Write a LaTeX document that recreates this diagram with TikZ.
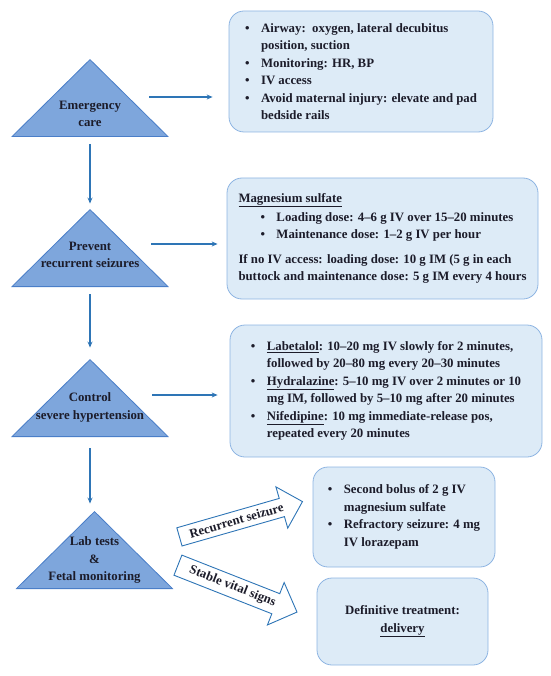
\documentclass[tikz,border=0pt]{standalone}
\usepackage{fontspec}
\setmainfont{Liberation Serif}
\usetikzlibrary{shapes.geometric,shapes.arrows,arrows.meta}

\definecolor{trifill}{HTML}{7EA6DC}
\definecolor{triline}{HTML}{4A7EC8}
\definecolor{boxfill}{HTML}{DDEBF7}
\definecolor{boxline}{HTML}{8DB4E2}
\definecolor{flowblue}{HTML}{2E75B6}
\definecolor{inkdark}{HTML}{1C1C2A}

\newcommand{\bul}{\makebox[16pt][l]{\textbullet}}
\newcommand{\cont}{\hspace*{16pt}}

\begin{document}
\begin{tikzpicture}[
  x = 1pt, y = -1pt,
  every node/.style = {font=\bfseries\fontsize{12.8}{17.5}\selectfont, text=inkdark},
  tri/.style      = {isosceles triangle, isosceles triangle stretches,
                     shape border rotate=90, draw=triline, fill=trifill,
                     line width=0.8pt, minimum width=156pt, minimum height=77pt,
                     inner sep=0pt, anchor=lower side},
  tritext/.style  = {align=center},
  infobox/.style  = {draw=boxline, fill=boxfill, line width=0.8pt,
                     rounded corners=15pt, align=left, inner sep=0pt},
  flow/.style     = {draw=flowblue, line width=1.1pt,
                     -{Stealth[length=6pt,width=5pt]}},
  bigarrow/.style = {single arrow, draw=flowblue, fill=white, line width=0.9pt,
                     single arrow head extend=12pt, inner xsep=3pt,
                     inner ysep=4.5pt, minimum height=128pt, anchor=tail},
]

\useasboundingbox (0,0) rectangle (550,676);

% steps on the left
\node[tri] (care)    at (90,137)   {};
\node[tri] (prevent) at (90,287)   {};
\node[tri] (control) at (90,437)   {};
\node[tri] (lab)     at (94.5,589) {};

\node[tritext] at ([yshift=23pt]care.lower side)    {Emergency\\care};
\node[tritext] at ([yshift=32pt]prevent.lower side) {Prevent\\recurrent seizures};
\node[tritext] at ([yshift=29.5pt]control.lower side) {Control\\severe hypertension};
\node[tritext] at ([yshift=29pt]lab.lower side)     {Lab tests\\\&\\Fetal monitoring};

% what to do at each step
\node[infobox, minimum width=264pt, minimum height=121pt] (airway) at (361,71.5) {%
  \bul Airway:\ \ oxygen, lateral decubitus\\
  \cont position, suction\\
  \bul Monitoring: HR, BP\\
  \bul IV access\\
  \bul Avoid maternal injury: elevate and pad\\
  \cont bedside rails};

\node[infobox, minimum width=311pt, minimum height=121pt] (magnesium) at (382.5,238.5) {%
  \underline{Magnesium sulfate}\\[1.5pt]
  \hspace*{22pt}\bul Loading dose: 4–6 g IV over 15–20 minutes\\
  \hspace*{22pt}\bul Maintenance dose: 1–2 g IV per hour\\[7pt]
  If no IV access: loading dose: 10 g IM (5 g in each\\
  buttock and maintenance dose: 5 g IM every 4 hours};

\node[infobox, minimum width=312pt, minimum height=132pt] (drugs) at (386,391) {%
  \bul \underline{Labetalol}: 10–20 mg IV slowly for 2 minutes,\\
  \cont followed by 20–80 mg every 20–30 minutes\\
  \bul \underline{Hydralazine}: 5–10 mg IV over 2 minutes or 10\\
  \cont mg IM, followed by 5–10 mg after 20 minutes\\
  \bul \underline{Nifedipine}: 10 mg immediate-release pos,\\
  \cont repeated every 20 minutes};

\node[infobox, minimum width=182pt, minimum height=100pt] (bolus) at (404,517) {%
  \bul Second bolus of 2 g IV\\
  \cont magnesium sulfate\\
  \bul Refractory seizure: 4 mg\\
  \cont IV lorazepam};

\node[infobox, align=center, minimum width=171pt, minimum height=87pt] (delivery) at (402.5,621.5) {%
  Definitive treatment:\\
  \underline{delivery}};

% down the steps
\draw[flow] ([yshift=-7pt]care.lower side) -- ([yshift=5pt]prevent.apex);
\draw[flow] ([yshift=-7pt]prevent.lower side) -- ([yshift=11pt]control.apex);
\draw[flow] ([yshift=-11pt]control.lower side) -- ([yshift=7pt]control.lower side |- lab.apex);

% across to the boxes
\coordinate (c1) at ([shift={(59pt,40pt)}]care.lower side);
\coordinate (c2) at ([shift={(61pt,43pt)}]prevent.lower side);
\coordinate (c3) at ([shift={(62pt,42pt)}]control.lower side);
\draw[flow, shorten >=16pt] (c1) -- (c1 -| airway.west);
\draw[flow, shorten >=9pt]  (c2) -- (c2 -| magnesium.west);
\draw[flow, shorten >=12pt] (c3) -- (c3 -| drugs.west);

% the two outcomes
\node[bigarrow, rotate=16]    (recur)  at (179,537)   {Recurrent seizure};
\node[bigarrow, rotate=-21.5] (stable) at (177.5,565) {Stable vital signs};

\end{tikzpicture}
\end{document}
